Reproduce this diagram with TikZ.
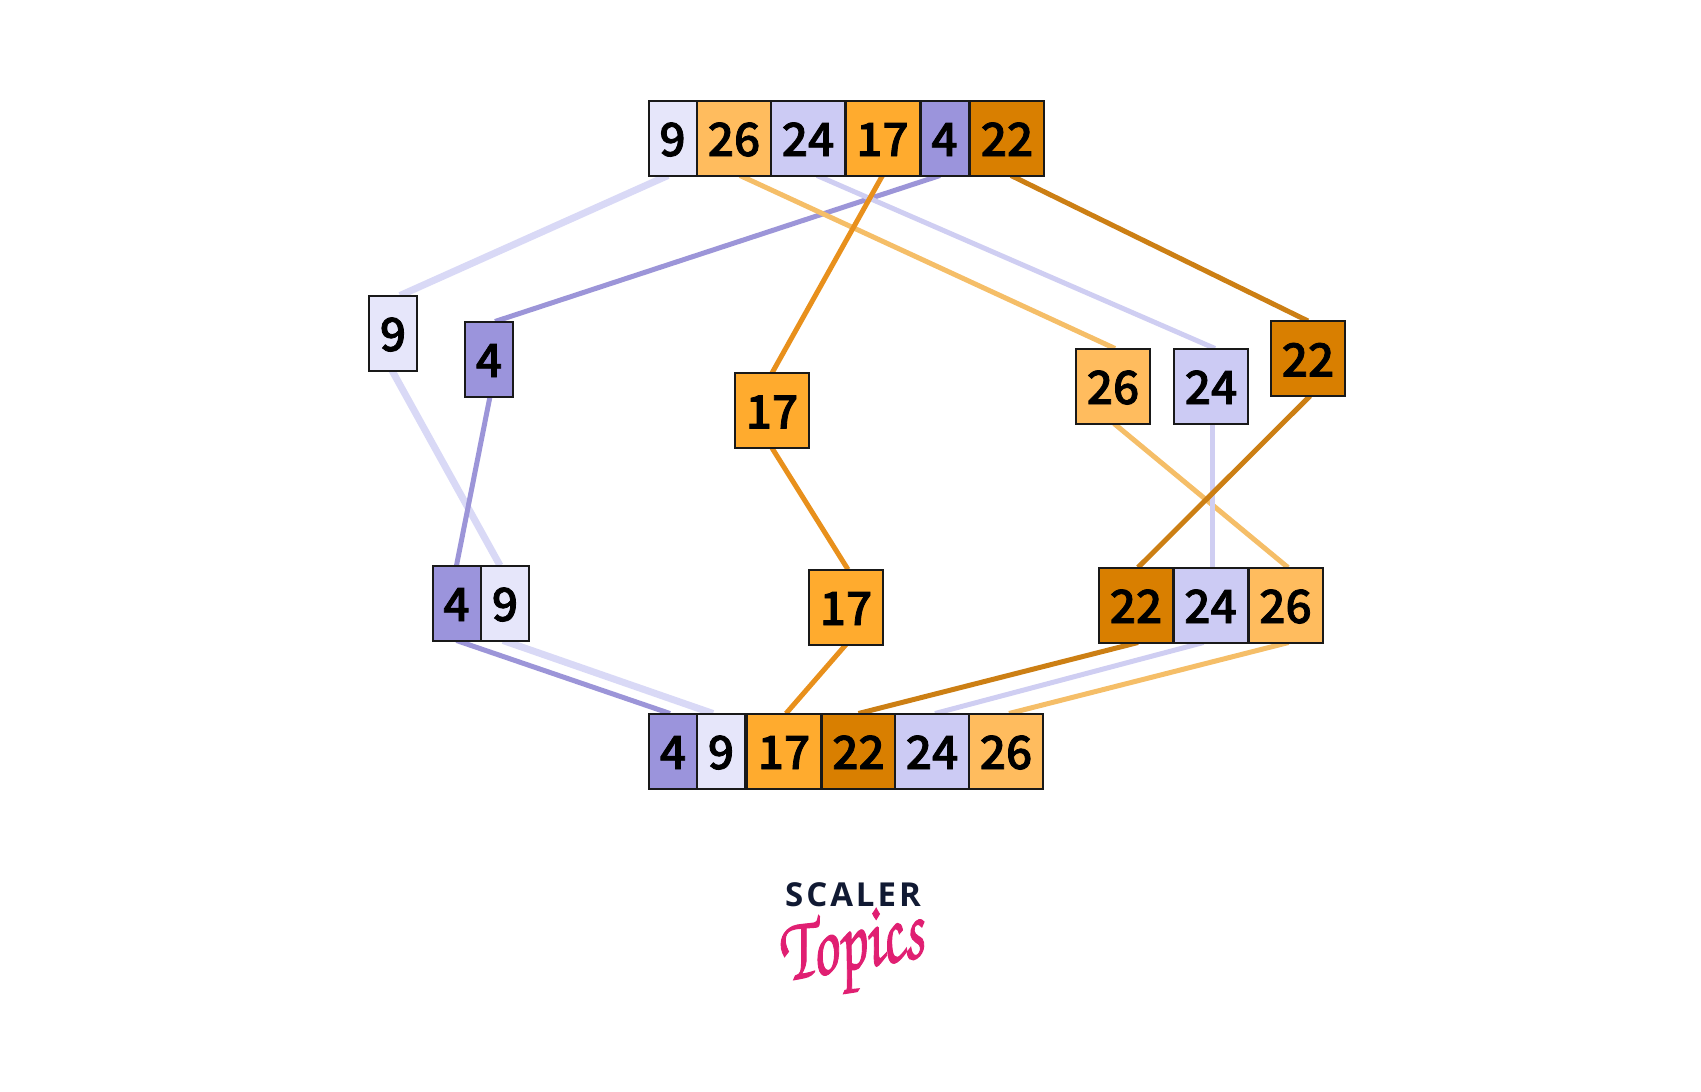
\documentclass[tikz,border=0pt]{standalone}
\usepackage{fontspec}
\setmainfont{Noto Sans CJK SC Medium}
\newfontfamily\logofont[LetterSpace=9]{Open Sans}
\usetikzlibrary{backgrounds}
\definecolor{c9}{HTML}{E6E6FA}
\definecolor{c26}{HTML}{FFBC5E}
\definecolor{c24}{HTML}{CCCBF4}
\definecolor{c17}{HTML}{FFAB2E}
\definecolor{c4}{HTML}{9B94DC}
\definecolor{c22}{HTML}{D97F00}
\definecolor{l9}{HTML}{D9D9F6}
\definecolor{l26}{HTML}{F5BE68}
\definecolor{l24}{HTML}{CFCEF2}
\definecolor{l17}{HTML}{E8901C}
\definecolor{l4}{HTML}{9C95D8}
\definecolor{l22}{HTML}{CC7F14}
\definecolor{navy}{HTML}{111A33}
\definecolor{pink}{HTML}{E01F72}
\newcommand{\thickglyphs}[1]{\special{pdf:code 2 Tr 1 w}#1\special{pdf:code 0 Tr}}
\newcommand{\heavier}[1]{\special{pdf:code 2 Tr 0.8 w}#1\special{pdf:code 0 Tr}}
\tikzset{
  x=1pt,y=-1pt,
  cell/.style={draw=black!90,line width=2pt,inner sep=0pt,outer sep=0pt,minimum height=75pt,
    text height=36pt,text depth=0pt,
    font=\fontsize{46}{46}\selectfont,text=black},
  narrow/.style={cell,minimum width=48pt},
  wide/.style={cell,minimum width=74pt},
  a9/.style={narrow,fill=c9},
  a4/.style={narrow,fill=c4},
  a26/.style={wide,fill=c26},
  a24/.style={wide,fill=c24},
  a17/.style={wide,fill=c17},
  a22/.style={wide,fill=c22},
  lA/.style={draw=l9,line width=7pt},
  lB/.style={draw=l4,line width=5pt},
  lC/.style={draw=l17,line width=5pt},
  lD/.style={draw=l22,line width=5pt},
  lE/.style={draw=l24,line width=5pt},
  lF/.style={draw=l26,line width=5pt},
}
\begin{document}
\begin{tikzpicture}
\useasboundingbox (0,0) rectangle (1701,1092);
% top row
\node[a9]  (t9)  at (672.5,138) {\heavier{9}};
\node[a26] (t26) at (734,138) {\heavier{26}};
\node[a24] (t24) at (808,138) {\heavier{24}};
\node[a17] (t17) at (882.5,138) {\heavier{17}};
\node[a4]  (t4)  at (944.5,138) {\heavier{4}};
\node[a22] (t22) at (1007,138) {\heavier{22}};
% singles
\node[a9]  (s9)  at (393,333) {\heavier{9}};
\node[a4]  (s4)  at (489,359) {\heavier{4}};
\node[a17] (m17) at (772,410.5) {\heavier{17}};
\node[a26] (s26) at (1113,386) {\heavier{26}};
\node[a24] (s24) at (1211,386) {\heavier{24}};
\node[a22] (s22) at (1308,358.5) {\heavier{22}};
% merged once
\node[a4]  (p4)  at (456.5,603) {\heavier{4}};
\node[a9]  (p9)  at (505,603) {\heavier{9}};
\node[a17] (n17) at (846,607) {\heavier{17}};
\node[a22] (x22) at (1136,605) {\heavier{22}};
\node[a24] (x24) at (1210.5,605) {\heavier{24}};
\node[a26] (x26) at (1285.5,605) {\heavier{26}};
% bottom row
\node[a4]  (b4)  at (673,751) {\heavier{4}};
\node[a9]  (b9)  at (721,751) {\heavier{9}};
\node[a17] (b17) at (784,751) {\heavier{17}};
\node[a22] (b22) at (858.5,751) {\heavier{22}};
\node[a24] (b24) at (932,751) {\heavier{24}};
\node[a26] (b26) at (1006,751) {\heavier{26}};
\begin{scope}[on background layer]
\draw[lA] ([xshift=-4.5]t9.south) -- ([xshift=7]s9.north);
\draw[lA] ([xshift=-1]s9.south) -- ([xshift=-5]p9.north);
\draw[lA] ([xshift=-2]p9.south) -- ([xshift=-8]b9.north);
\draw[lB] ([xshift=-4.5]t4.south) -- ([xshift=6]s4.north);
\draw[lB] ([xshift=1]s4.south) -- (p4.north);
\draw[lB] ([xshift=0]p4.south) -- ([xshift=-3]b4.north);
\draw[lF] ([xshift=6]t26.south) -- ([xshift=2]s26.north);
\draw[lF] ([xshift=1]s26.south) -- ([xshift=2.5]x26.north);
\draw[lF] ([xshift=3]x26.south) -- ([xshift=3]b26.north);
\draw[lE] ([xshift=9]t24.south) -- ([xshift=4]s24.north);
\draw[lE] ([xshift=1]s24.south) -- ([xshift=1.5]x24.north);
\draw[lE] ([xshift=-7]x24.south) -- ([xshift=3]b24.north);
\draw[lC] (t17.south) -- (m17.north);
\draw[lC] (m17.south) -- ([xshift=2]n17.north);
\draw[lC] (n17.south) -- ([xshift=2]b17.north);
\draw[lD] ([xshift=4]t22.south) -- ([xshift=0]s22.north);
\draw[lD] ([xshift=2]s22.south) -- ([xshift=2]x22.north);
\draw[lD] ([xshift=2]x22.south) -- ([xshift=0]b22.north);
\end{scope}
% logo
\node[inner sep=0pt,text=navy,font=\logofont\fontsize{33}{33}\selectfont\bfseries] (scaler) at (853,895) {SCALER};
\node[inner sep=0pt,text=pink,rotate=10,xscale=.86,yscale=1.2,font=\fontsize{76}{76}\usefont{OT1}{pzc}{mb}{it}] (topics) at (852,953) {\thickglyphs{Topics}};
\end{tikzpicture}
\end{document}
